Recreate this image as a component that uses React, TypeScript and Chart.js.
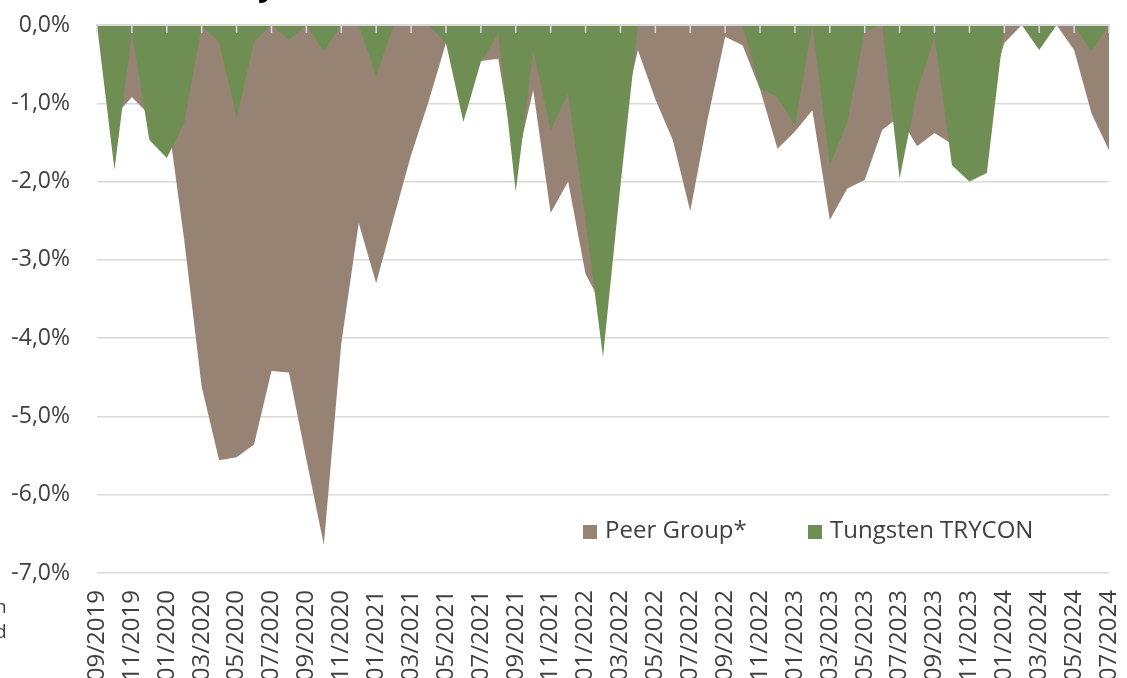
import React, { useEffect, useRef } from "react";
import { Chart, registerables } from "chart.js";

Chart.register(...registerables);

const months = [
  "09/2019", "10/2019", "11/2019", "12/2019",
  "01/2020", "02/2020", "03/2020", "04/2020", "05/2020", "06/2020", "07/2020", "08/2020", "09/2020", "10/2020", "11/2020", "12/2020",
  "01/2021", "02/2021", "03/2021", "04/2021", "05/2021", "06/2021", "07/2021", "08/2021", "09/2021", "10/2021", "11/2021", "12/2021",
  "01/2022", "02/2022", "03/2022", "04/2022", "05/2022", "06/2022", "07/2022", "08/2022", "09/2022", "10/2022", "11/2022", "12/2022",
  "01/2023", "02/2023", "03/2023", "04/2023", "05/2023", "06/2023", "07/2023", "08/2023", "09/2023", "10/2023", "11/2023", "12/2023",
  "01/2024", "02/2024", "03/2024", "04/2024", "05/2024", "06/2024", "07/2024",
];

const peerGroup = [
  0, -1.17, -0.92, -1.15,
  -1.1, -2.75, -4.62, -5.56, -5.52, -5.36, -4.42, -4.44, -5.55, -6.64, -4.07, -2.53,
  -3.3, -2.47, -1.66, -0.98, -0.23, -0.7, -0.46, -0.43, -1.8, -0.83, -2.4, -2.0,
  -3.18, -3.6, -1.3, -0.32, -0.95, -1.47, -2.38, -1.2, -0.15, -0.26, -0.82, -1.58,
  -1.36, -1.09, -2.49, -2.09, -1.98, -1.34, -1.17, -1.55, -1.38, -1.52, -1.4, -1.0,
  -0.23, 0, 0, 0, -0.32, -1.13, -1.6,
];

const trycon = [
  0, -1.85, -0.09, -1.47,
  -1.7, -1.25, -0.02, -0.21, -1.19, -0.21, 0, -0.19, 0, -0.34, 0, 0,
  -0.65, 0, 0, 0, -0.23, -1.24, -0.47, -0.11, -2.13, -0.32, -1.34, -0.87,
  -2.5, -4.24, -2.05, 0, 0, 0, 0, 0, 0, 0, -0.81, -0.92,
  -1.28, 0, -1.79, -1.24, -0.08, 0, -1.96, -0.85, -0.15, -1.79, -2.0, -1.89,
  0, 0, -0.32, 0, 0, -0.34, 0,
];

const yTickLabels = ["0,0%", "-1,0%", "-2,0%", "-3,0%", "-4,0%", "-5,0%", "-6,0%", "-7,0%"];

const seriesNames = ["Peer Group*", "Tungsten TRYCON"];
const BROWN = "#968374";
const GREEN = "#6f8e53";
const TEXT = "#404040";
const GRID = "#d9d9d9";
const FONT = "'Open Sans', sans-serif";

const CANVAS_W = 1127;
const CANVAS_H = 700;

const axisPlugin = {
  id: "zeroAxis",
  afterDatasetsDraw(chart: any) {
    const { ctx, chartArea, scales } = chart;
    const x = scales.x;
    const y = scales.y;
    const y0 = y.getPixelForValue(0);
    ctx.save();
    ctx.strokeStyle = GRID;
    ctx.lineWidth = 2;
    ctx.beginPath();
    ctx.moveTo(chartArea.left - 1, y0);
    ctx.lineTo(chartArea.right + 1, y0);
    ctx.stroke();
    ctx.lineWidth = 1.5;
    ctx.beginPath();
    for (let i = 0; i < months.length; i += 2) {
      const px = x.getPixelForValue(i);
      ctx.moveTo(px, y0);
      ctx.lineTo(px, y0 + 8);
    }
    ctx.stroke();
    ctx.restore();
  },
};

const legendPlugin = {
  id: "innerLegend",
  afterDraw(chart: any) {
    const { ctx } = chart;
    const items = [
      { text: seriesNames[0], color: BROWN, x: 583 },
      { text: seriesNames[1], color: GREEN, x: 808 },
    ];
    ctx.save();
    ctx.font = `24px ${FONT}`;
    ctx.textBaseline = "middle";
    ctx.textAlign = "left";
    for (const it of items) {
      ctx.fillStyle = it.color;
      ctx.fillRect(it.x, 525, 14, 14);
      ctx.fillStyle = TEXT;
      ctx.fillText(it.text, it.x + 22, 531);
    }
    ctx.restore();
  },
};

export default function App() {
  const ref = useRef<HTMLCanvasElement | null>(null);

  useEffect(() => {
    if (!ref.current) return;
    const chart = new Chart(ref.current, {
      type: "line",
      data: {
        labels: months,
        datasets: [
          {
            label: seriesNames[0],
            data: peerGroup,
            backgroundColor: BROWN,
            borderColor: BROWN,
            borderWidth: 0,
            pointRadius: 0,
            fill: "origin",
            tension: 0,
            order: 2,
          },
          {
            label: seriesNames[1],
            data: trycon,
            backgroundColor: GREEN,
            borderColor: GREEN,
            borderWidth: 0,
            pointRadius: 0,
            fill: "origin",
            tension: 0,
            order: 1,
          },
        ],
      },
      options: {
        responsive: false,
        animation: false,
        devicePixelRatio: 1,
        layout: { padding: { left: 0, right: 18, top: 25, bottom: 0 } },
        plugins: {
          legend: { display: false },
          tooltip: { enabled: false },
          title: { display: false },
        },
        scales: {
          x: {
            type: "category",
            offset: false,
            grid: { display: false, drawTicks: false },
            border: { display: false },
            ticks: {
              autoSkip: false,
              maxRotation: 90,
              minRotation: 90,
              padding: 17,
              color: TEXT,
              font: { family: FONT, size: 24 },
              callback: (_v: any, i: number) => (i % 2 === 0 ? months[i] : ""),
            },
            afterFit: (scale: any) => {
              scale.height = CANVAS_H - 573;
              scale.paddingLeft = 0;
              scale.paddingRight = 0;
              scale.paddingTop = 0;
              scale.paddingBottom = 0;
            },
          },
          y: {
            min: -7,
            max: 0,
            grid: { color: GRID, lineWidth: 1.5, drawTicks: false },
            border: { display: false },
            ticks: {
              stepSize: 1,
              padding: 27,
              color: TEXT,
              font: { family: FONT, size: 23 },
              callback: (v: any) => yTickLabels[Math.round(-Number(v))] ?? "",
            },
            afterFit: (scale: any) => {
              scale.width = 97;
              scale.paddingLeft = 0;
              scale.paddingRight = 0;
              scale.paddingTop = 0;
              scale.paddingBottom = 0;
            },
          },
        },
      },
      plugins: [axisPlugin, legendPlugin],
    });
    return () => chart.destroy();
  }, []);

  return (
    <div
      style={{
        position: "fixed",
        left: 0,
        top: 0,
        width: CANVAS_W,
        height: 678,
        overflow: "hidden",
        background: "#fff",
      }}
    >
      <canvas
        ref={ref}
        width={CANVAS_W}
        height={CANVAS_H}
        style={{ display: "block", width: CANVAS_W, height: CANVAS_H }}
      />
      <div
        style={{
          position: "absolute",
          left: 258,
          top: -33,
          fontFamily: FONT,
          fontSize: 32,
          fontWeight: 700,
          lineHeight: "32px",
          color: "#000",
        }}
      >
        y
      </div>
      <div
        style={{
          position: "absolute",
          left: -5,
          top: 594,
          fontFamily: FONT,
          fontSize: 19,
          lineHeight: "25px",
          color: TEXT,
        }}
      >
        <div>n</div>
        <div>d</div>
      </div>
    </div>
  );
}
